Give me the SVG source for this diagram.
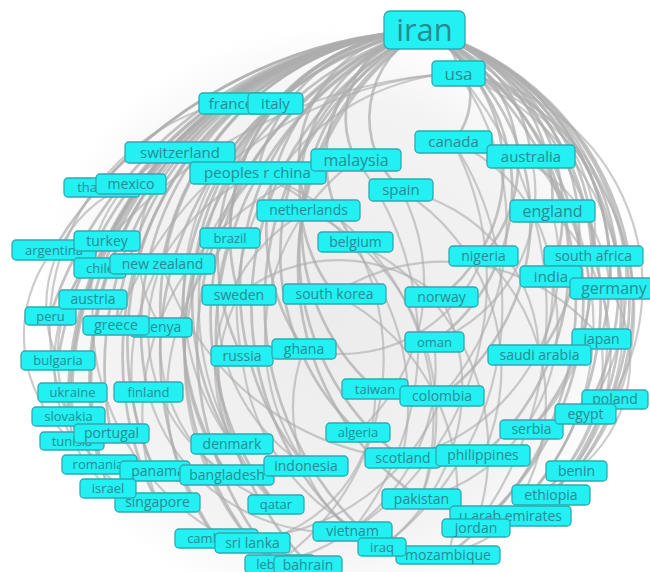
<svg xmlns="http://www.w3.org/2000/svg" width="650" height="572" viewBox="0 0 650 572">
<defs>
<radialGradient id="halo" cx="330" cy="320" r="295" gradientUnits="userSpaceOnUse">
<stop offset="0" stop-color="#ececec"/>
<stop offset="0.75" stop-color="#f3f3f3"/>
<stop offset="1" stop-color="#ffffff"/>
</radialGradient>
</defs>
<style>
.e path{fill:none;stroke:#adadad;stroke-width:2.7;stroke-opacity:.72;stroke-linecap:round}
.e .x path{stroke-width:2.2;stroke-opacity:.62}
.n rect{fill:#22f0f2;stroke:#2fa9b1;stroke-width:1.3}
.n text{font-family:"Open Sans","DejaVu Sans",sans-serif;fill:#2a8a91;text-anchor:middle}
</style>
<rect width="650" height="572" fill="#ffffff"/>
<circle cx="330" cy="320" r="295" fill="url(#halo)"/>
<g id="connectors" class="e">
<path d="M424 30 A46 46 0 0 1 458 73"/>
<path d="M424 30 A364 364 0 0 0 224 103"/>
<path d="M424 30 A213 213 0 0 0 275 103"/>
<path d="M424 30 A341 341 0 0 0 180 152"/>
<path d="M424 30 A180 180 0 0 0 257 173"/>
<path d="M424 30 A89 89 0 0 0 356 160"/>
<path d="M424 30 A70 70 0 0 1 453 142"/>
<path d="M424 30 A145 145 0 0 1 531 156"/>
<path d="M424 30 A98 98 0 0 0 401 190"/>
<path d="M424 30 A466 466 0 0 0 99 187"/>
<path d="M424 30 A396 396 0 0 0 131 184"/>
<path d="M424 30 A132 132 0 0 0 308 210"/>
<path d="M424 30 A174 174 0 0 1 552 211"/>
<path d="M424 30 A204 204 0 0 0 230 238"/>
<path d="M424 30 A134 134 0 0 0 355 242"/>
<path d="M424 30 A374 374 0 0 0 107 241"/>
<path d="M424 30 A463 463 0 0 0 53 250"/>
<path d="M424 30 A368 368 0 0 0 99 268"/>
<path d="M424 30 A281 281 0 0 0 162 263"/>
<path d="M424 30 A141 141 0 0 1 483 256"/>
<path d="M424 30 A228 228 0 0 1 593 256"/>
<path d="M424 30 A187 187 0 0 1 551 276"/>
<path d="M424 30 A252 252 0 0 1 610 288"/>
<path d="M424 30 A362 362 0 0 0 93 299"/>
<path d="M424 30 A417 417 0 0 0 50 316"/>
<path d="M424 30 A205 205 0 0 0 239 295"/>
<path d="M424 30 A168 168 0 0 0 334 294"/>
<path d="M424 30 A162 162 0 0 1 441 297"/>
<path d="M424 30 A327 327 0 0 0 116 325"/>
<path d="M424 30 A278 278 0 0 0 161 327"/>
<path d="M424 30 A392 392 0 0 0 58 360"/>
<path d="M424 30 A225 225 0 0 0 242 356"/>
<path d="M424 30 A206 206 0 0 0 304 349"/>
<path d="M424 30 A188 188 0 0 1 434 342"/>
<path d="M424 30 A251 251 0 0 1 601 339"/>
<path d="M424 30 A209 209 0 0 1 539 355"/>
<path d="M424 30 A218 218 0 0 0 375 389"/>
<path d="M424 30 A221 221 0 0 1 442 396"/>
<path d="M424 30 A372 372 0 0 0 72 392"/>
<path d="M424 30 A298 298 0 0 0 148 392"/>
<path d="M424 30 A279 279 0 0 1 611 399"/>
<path d="M424 30 A263 263 0 0 1 585 413"/>
<path d="M424 30 A376 376 0 0 0 68 416"/>
<path d="M424 30 A374 374 0 0 0 72 441"/>
<path d="M424 30 A338 338 0 0 0 111 433"/>
<path d="M424 30 A245 245 0 0 0 358 432"/>
<path d="M424 30 A249 249 0 0 1 531 429"/>
<path d="M424 30 A275 275 0 0 0 232 444"/>
<path d="M424 30 A259 259 0 0 0 402 458"/>
<path d="M424 30 A259 259 0 0 1 483 455"/>
<path d="M424 30 A281 281 0 0 1 576 471"/>
<path d="M424 30 A353 353 0 0 0 99 464"/>
<path d="M424 30 A313 313 0 0 0 155 471"/>
<path d="M424 30 A293 293 0 0 0 227 474"/>
<path d="M424 30 A273 273 0 0 0 306 466"/>
<path d="M424 30 A351 351 0 0 0 108 488"/>
<path d="M424 30 A327 327 0 0 0 157 502"/>
<path d="M424 30 A300 300 0 0 0 276 504"/>
<path d="M424 30 A283 283 0 0 0 421 499"/>
<path d="M424 30 A291 291 0 0 1 551 495"/>
<path d="M424 30 A298 298 0 0 1 510 516"/>
<path d="M424 30 A302 302 0 0 1 475 528"/>
<path d="M424 30 A305 305 0 0 0 352 531"/>
<path d="M424 30 A331 331 0 0 0 216 538"/>
<path d="M424 30 A326 326 0 0 0 252 543"/>
<path d="M424 30 A313 313 0 0 0 382 547"/>
<path d="M424 30 A317 317 0 0 1 448 555"/>
<path d="M424 30 A334 334 0 0 0 277 563"/>
<path d="M424 30 A329 329 0 0 0 308 564"/>
<g class="x">
<path d="M458 73 A249 249 0 0 1 576 471"/>
<path d="M458 73 A259 259 0 0 1 551 495"/>
<path d="M458 73 A218 218 0 0 1 585 413"/>
<path d="M458 73 A216 216 0 0 1 611 399"/>
<path d="M458 73 A364 364 0 0 1 475 528"/>
<path d="M458 73 A506 506 0 0 0 107 241"/>
<path d="M458 73 A386 386 0 0 0 116 325"/>
<path d="M458 73 A234 234 0 0 0 242 356"/>
<path d="M453 142 A160 160 0 0 1 539 355"/>
<path d="M531 156 A190 190 0 0 1 531 429"/>
<path d="M531 156 A260 260 0 0 1 510 516"/>
<path d="M552 211 A200 200 0 0 1 551 495"/>
<path d="M552 211 A200 200 0 0 1 402 458"/>
<path d="M551 276 A180 180 0 0 1 421 499"/>
<path d="M610 288 A140 140 0 0 1 576 471"/>
<path d="M593 256 A230 230 0 0 1 448 555"/>
<path d="M483 256 A150 150 0 0 1 304 349"/>
<path d="M356 160 A220 220 0 0 0 306 466"/>
<path d="M356 160 A260 260 0 0 0 157 502"/>
<path d="M257 173 A260 260 0 0 1 421 499"/>
<path d="M308 210 A180 180 0 0 0 232 444"/>
<path d="M180 152 A130 130 0 0 0 93 299"/>
<path d="M107 241 A160 160 0 0 0 99 464"/>
<path d="M107 241 A170 170 0 0 0 108 488"/>
<path d="M53 250 A140 140 0 0 0 72 441"/>
<path d="M131 184 A130 130 0 0 0 58 360"/>
<path d="M401 190 A200 200 0 0 1 358 432"/>
<path d="M224 103 A230 230 0 0 0 68 416"/>
<path d="M275 103 A250 250 0 0 0 232 444"/>
<path d="M275 103 A300 300 0 0 0 276 504"/>
<path d="M453 142 A300 300 0 0 1 352 531"/>
<path d="M453 142 A300 300 0 0 1 382 547"/>
<path d="M257 173 A280 280 0 0 0 252 543"/>
<path d="M334 294 A200 200 0 0 1 601 339"/>
<path d="M239 295 A160 160 0 0 1 441 297"/>
<path d="M162 263 A280 280 0 0 0 483 455"/>
<path d="M531 156 A160 160 0 0 1 434 342"/>
<path d="M458 73 A260 260 0 0 1 442 396"/>
<path d="M257 173 A230 230 0 0 0 227 474"/>
<path d="M230 238 A230 230 0 0 0 216 538"/>
<path d="M355 242 A250 250 0 0 1 277 563"/>
<path d="M257 173 A220 220 0 0 0 155 471"/>
<path d="M601 339 A170 170 0 0 1 475 528"/>
<path d="M148 392 A190 190 0 0 0 352 531"/>
<path d="M72 392 A110 110 0 0 0 157 502"/>
<path d="M93 299 A250 250 0 0 0 308 564"/>
<path d="M180 152 A140 140 0 0 0 161 327"/>
<path d="M401 190 A170 170 0 0 1 539 355"/>
<path d="M453 142 A160 160 0 0 1 610 288"/>
<path d="M458 73 A160 160 0 0 1 593 256"/>
<path d="M308 210 A230 230 0 0 1 421 499"/>
<path d="M355 242 A230 230 0 0 1 475 528"/>
<path d="M334 294 A220 220 0 0 1 448 555"/>
<path d="M304 349 A160 160 0 0 0 352 531"/>
<path d="M441 297 A200 200 0 0 1 382 547"/>
<path d="M434 342 A200 200 0 0 1 277 563"/>
<path d="M239 295 A170 170 0 0 0 276 504"/>
<path d="M242 356 A220 220 0 0 0 448 555"/>
<path d="M375 389 A150 150 0 0 1 252 543"/>
<path d="M442 396 A220 220 0 0 1 216 538"/>
<path d="M483 256 A200 200 0 0 1 510 516"/>
<path d="M401 190 A210 210 0 0 1 483 455"/>
<path d="M356 160 A300 300 0 0 1 352 531"/>
<path d="M257 173 A250 250 0 0 1 402 458"/>
<path d="M230 238 A190 190 0 0 0 306 466"/>
<path d="M161 327 A170 170 0 0 0 276 504"/>
<path d="M162 263 A170 170 0 0 0 227 474"/>
</g>
</g>
<g id="n-france" class="n"><rect x="199" y="93" width="64" height="21" rx="4"/><text x="231" y="108.7" font-size="15">france</text></g>
<g id="n-italy" class="n"><rect x="248" y="93" width="55" height="21" rx="4"/><text x="275.5" y="108.7" font-size="15">italy</text></g>
<g id="n-switzerland" class="n"><rect x="125" y="142" width="110" height="21" rx="4"/><text x="180" y="157.7" font-size="15">switzerland</text></g>
<g id="n-peoples-r-china" class="n"><rect x="190" y="162" width="136" height="22" rx="4"/><text x="257.5" y="178.2" font-size="15">peoples r china</text></g>
<g id="n-malaysia" class="n"><rect x="311" y="149" width="90" height="22" rx="4"/><text x="356" y="165.6" font-size="16">malaysia</text></g>
<g id="n-usa" class="n"><rect x="432" y="61" width="53" height="25" rx="4"/><text x="458.5" y="79.5" font-size="17">usa</text></g>
<g id="n-iran" class="n"><rect x="384" y="11" width="81" height="38" rx="6"/><text x="424.5" y="41" font-size="31">iran</text></g>
<g id="n-canada" class="n"><rect x="415" y="131" width="77" height="22" rx="4"/><text x="453.5" y="147.2" font-size="15">canada</text></g>
<g id="n-australia" class="n"><rect x="487" y="145" width="88" height="23" rx="4"/><text x="531" y="161.7" font-size="15">australia</text></g>
<g id="n-spain" class="n"><rect x="369" y="179" width="64" height="22" rx="4"/><text x="401" y="195.2" font-size="15">spain</text></g>
<g id="n-thailand" class="n"><rect x="64" y="178" width="76" height="19" rx="4"/><text x="102" y="192" font-size="13">thailand</text></g>
<g id="n-mexico" class="n"><rect x="96" y="174" width="70" height="20" rx="4"/><text x="131" y="188.9" font-size="14">mexico</text></g>
<g id="n-netherlands" class="n"><rect x="257" y="200" width="103" height="21" rx="4"/><text x="308.5" y="215.4" font-size="14">netherlands</text></g>
<g id="n-england" class="n"><rect x="510" y="200" width="85" height="22" rx="4"/><text x="552.5" y="216.6" font-size="16">england</text></g>
<g id="n-brazil" class="n"><rect x="200" y="228" width="60" height="20" rx="4"/><text x="230" y="242.6" font-size="13">brazil</text></g>
<g id="n-belgium" class="n"><rect x="318" y="232" width="75" height="20" rx="4"/><text x="355.5" y="246.9" font-size="14">belgium</text></g>
<g id="n-argentina" class="n"><rect x="12" y="240" width="84" height="20" rx="4"/><text x="54" y="254.6" font-size="13">argentina</text></g>
<g id="n-turkey" class="n"><rect x="74" y="231" width="66" height="20" rx="4"/><text x="107" y="245.9" font-size="14">turkey</text></g>
<g id="n-chile" class="n"><rect x="74" y="258" width="52" height="20" rx="4"/><text x="100" y="272.6" font-size="13">chile</text></g>
<g id="n-new-zealand" class="n"><rect x="110" y="254" width="105" height="20" rx="4"/><text x="162.5" y="268.9" font-size="14">new zealand</text></g>
<g id="n-nigeria" class="n"><rect x="449" y="246" width="69" height="20" rx="4"/><text x="483.5" y="260.9" font-size="14">nigeria</text></g>
<g id="n-south-africa" class="n"><rect x="544" y="246" width="99" height="20" rx="4"/><text x="593.5" y="260.9" font-size="14">south africa</text></g>
<g id="n-india" class="n"><rect x="520" y="266" width="62" height="21" rx="4"/><text x="551" y="281.7" font-size="15">india</text></g>
<g id="n-germany" class="n"><rect x="570" y="278" width="84" height="21" rx="4"/><text x="614" y="294.1" font-size="16">germany</text></g>
<g id="n-peru" class="n"><rect x="25" y="307" width="51" height="18" rx="4"/><text x="50.5" y="320.5" font-size="13">peru</text></g>
<g id="n-austria" class="n"><rect x="59" y="290" width="68" height="19" rx="4"/><text x="93" y="304.4" font-size="14">austria</text></g>
<g id="n-sweden" class="n"><rect x="202" y="285" width="74" height="20" rx="4"/><text x="239" y="299.9" font-size="14">sweden</text></g>
<g id="n-south-korea" class="n"><rect x="283" y="284" width="103" height="20" rx="4"/><text x="334.5" y="298.9" font-size="14">south korea</text></g>
<g id="n-norway" class="n"><rect x="405" y="287" width="73" height="20" rx="4"/><text x="441.5" y="301.9" font-size="14">norway</text></g>
<g id="n-kenya" class="n"><rect x="130" y="318" width="62" height="19" rx="4"/><text x="162" y="332.4" font-size="14">kenya</text></g>
<g id="n-greece" class="n"><rect x="83" y="316" width="66" height="19" rx="4"/><text x="116" y="330.4" font-size="14">greece</text></g>
<g id="n-bulgaria" class="n"><rect x="21" y="351" width="74" height="19" rx="4"/><text x="58" y="365.1" font-size="13">bulgaria</text></g>
<g id="n-russia" class="n"><rect x="211" y="346" width="62" height="20" rx="4"/><text x="242" y="360.9" font-size="14">russia</text></g>
<g id="n-ghana" class="n"><rect x="272" y="339" width="64" height="20" rx="4"/><text x="304" y="353.9" font-size="14">ghana</text></g>
<g id="n-oman" class="n"><rect x="405" y="332" width="59" height="20" rx="4"/><text x="434.5" y="346.6" font-size="13">oman</text></g>
<g id="n-japan" class="n"><rect x="572" y="329" width="59" height="20" rx="4"/><text x="601.5" y="343.9" font-size="14">japan</text></g>
<g id="n-saudi-arabia" class="n"><rect x="488" y="345" width="103" height="20" rx="4"/><text x="539.5" y="359.9" font-size="14">saudi arabia</text></g>
<g id="n-taiwan" class="n"><rect x="342" y="379" width="66" height="20" rx="4"/><text x="375" y="393.6" font-size="13">taiwan</text></g>
<g id="n-colombia" class="n"><rect x="400" y="386" width="84" height="20" rx="4"/><text x="442" y="400.9" font-size="14">colombia</text></g>
<g id="n-ukraine" class="n"><rect x="38" y="383" width="69" height="19" rx="4"/><text x="72.5" y="397.1" font-size="13">ukraine</text></g>
<g id="n-finland" class="n"><rect x="114" y="382" width="69" height="20" rx="4"/><text x="148.5" y="396.6" font-size="13">finland</text></g>
<g id="n-poland" class="n"><rect x="582" y="390" width="66" height="19" rx="4"/><text x="615" y="404.4" font-size="14">poland</text></g>
<g id="n-serbia" class="n"><rect x="500" y="420" width="63" height="19" rx="4"/><text x="531.5" y="434.4" font-size="14">serbia</text></g>
<g id="n-egypt" class="n"><rect x="555" y="404" width="61" height="20" rx="4"/><text x="585.5" y="418.9" font-size="14">egypt</text></g>
<g id="n-slovakia" class="n"><rect x="32" y="407" width="73" height="19" rx="4"/><text x="68.5" y="421.1" font-size="13">slovakia</text></g>
<g id="n-tunisia" class="n"><rect x="40" y="432" width="64" height="18" rx="4"/><text x="72" y="445.6" font-size="13">tunisia</text></g>
<g id="n-portugal" class="n"><rect x="74" y="424" width="75" height="19" rx="4"/><text x="111.5" y="438.4" font-size="14">portugal</text></g>
<g id="n-algeria" class="n"><rect x="326" y="423" width="64" height="19" rx="4"/><text x="358" y="437.1" font-size="13">algeria</text></g>
<g id="n-denmark" class="n"><rect x="191" y="434" width="82" height="20" rx="4"/><text x="232" y="448.9" font-size="14">denmark</text></g>
<g id="n-scotland" class="n"><rect x="365" y="448" width="76" height="20" rx="4"/><text x="403" y="462.9" font-size="14">scotland</text></g>
<g id="n-philippines" class="n"><rect x="436" y="445" width="94" height="21" rx="4"/><text x="483" y="460.4" font-size="14">philippines</text></g>
<g id="n-benin" class="n"><rect x="546" y="461" width="61" height="20" rx="4"/><text x="576.5" y="475.9" font-size="14">benin</text></g>
<g id="n-romania" class="n"><rect x="62" y="455" width="75" height="19" rx="4"/><text x="98" y="469.1" font-size="13">romania</text></g>
<g id="n-panama" class="n"><rect x="120" y="461" width="70" height="20" rx="4"/><text x="158" y="475.9" font-size="14">panama</text></g>
<g id="n-bangladesh" class="n"><rect x="180" y="465" width="94" height="20" rx="4"/><text x="227" y="479.9" font-size="14">bangladesh</text></g>
<g id="n-indonesia" class="n"><rect x="264" y="456" width="84" height="20" rx="4"/><text x="306" y="470.9" font-size="14">indonesia</text></g>
<g id="n-singapore" class="n"><rect x="115" y="493" width="85" height="19" rx="4"/><text x="157.5" y="507.4" font-size="14">singapore</text></g>
<g id="n-israel" class="n"><rect x="80" y="479" width="56" height="19" rx="4"/><text x="108" y="493.1" font-size="13">israel</text></g>
<g id="n-qatar" class="n"><rect x="248" y="495" width="56" height="19" rx="4"/><text x="276" y="509.1" font-size="13">qatar</text></g>
<g id="n-pakistan" class="n"><rect x="382" y="489" width="79" height="20" rx="4"/><text x="421.5" y="503.9" font-size="14">pakistan</text></g>
<g id="n-ethiopia" class="n"><rect x="512" y="485" width="78" height="20" rx="4"/><text x="551" y="499.9" font-size="14">ethiopia</text></g>
<g id="n-u-arab-emirates" class="n"><rect x="450" y="506" width="121" height="20" rx="4"/><text x="510.5" y="520.9" font-size="14">u arab emirates</text></g>
<g id="n-jordan" class="n"><rect x="442" y="519" width="68" height="18" rx="4"/><text x="476" y="532.9" font-size="14">jordan</text></g>
<g id="n-vietnam" class="n"><rect x="313" y="522" width="79" height="19" rx="4"/><text x="352.5" y="536.4" font-size="14">vietnam</text></g>
<g id="n-cambodia" class="n"><rect x="175" y="529" width="83" height="19" rx="4"/><text x="217" y="543.1" font-size="13">cambodia</text></g>
<g id="n-sri-lanka" class="n"><rect x="215" y="533" width="75" height="20" rx="4"/><text x="252.5" y="547.9" font-size="14">sri lanka</text></g>
<g id="n-mozambique" class="n"><rect x="396" y="546" width="104" height="18" rx="4"/><text x="448" y="559.9" font-size="14">mozambique</text></g>
<g id="n-iraq" class="n"><rect x="358" y="538" width="48" height="18" rx="4"/><text x="382" y="551.6" font-size="13">iraq</text></g>
<g id="n-lebanon" class="n"><rect x="245" y="555" width="70" height="18" rx="4"/><text x="281" y="568.6" font-size="13">lebanon</text></g>
<g id="n-bahrain" class="n"><rect x="274" y="556" width="68" height="18" rx="4"/><text x="308" y="569.9" font-size="14">bahrain</text></g>
</svg>
